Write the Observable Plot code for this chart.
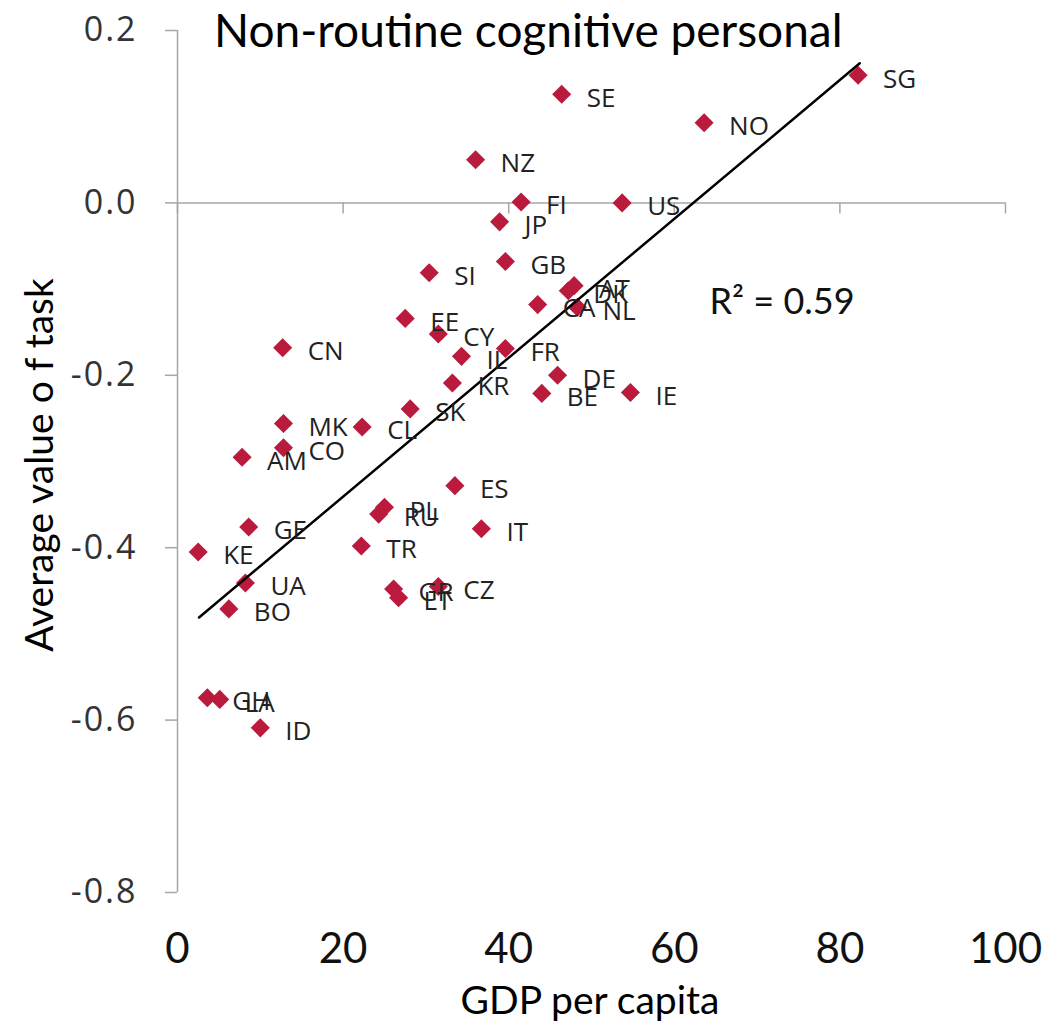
<!DOCTYPE html>
<html>
<head>
<meta charset="utf-8">
<script src="https://cdn.jsdelivr.net/npm/d3@7"></script>
<script src="https://cdn.jsdelivr.net/npm/@observablehq/plot@0.6"></script>
<style>
  html, body { margin: 0; padding: 0; background: #fff; }
  #wrap { position: relative; width: 1059px; height: 1026px; overflow: hidden; }
  .title { position: absolute; left: 214px; top: 7px; font-family: Lato, sans-serif; font-size: 46px; line-height: 1; color: #000; white-space: nowrap; }
  .xlab { position: absolute; left: 590px; top: 980px; transform: translateX(-50%); font-family: Lato, sans-serif; font-size: 39px; line-height: 1; color: #000; white-space: nowrap; }
  .ylab { position: absolute; left: 38px; top: 465px; transform: translate(-50%, -50%) rotate(-90deg); font-family: Lato, sans-serif; font-size: 39px; line-height: 1; color: #000; white-space: nowrap; }
  .ytick text { letter-spacing: 2px; }
</style>
</head>
<body>
<div id="wrap">
  <div class="title">Non-routine cognitive personal</div>
  <div class="ylab">Average value o f task</div>
  <div class="xlab">GDP per capita</div>
</div>
<script>
const countries = ["SE","SG","NO","NZ","FI","US","JP","GB","SI","AT","DK","CA","NL","EE","CY","IL","FR","KR","DE","BE","IE","SK","CN","MK","CL","CO","AM","ES","PL","RU","IT","GE","KE","TR","UA","BO","GR","LT","CZ","GH","LA","ID"];
const gdp = [46.4,82.2,63.6,36.0,41.5,53.7,38.9,39.6,30.4,47.9,47.2,43.5,48.3,27.5,31.5,34.3,39.6,33.2,45.9,44.0,54.7,28.1,12.7,12.8,22.3,12.8,7.8,33.5,25.0,24.3,36.7,8.6,2.5,22.2,8.2,6.2,26.1,26.7,31.5,3.6,5.1,10.0];
const task = [0.126,0.148,0.093,0.050,0.001,0.000,-0.022,-0.068,-0.081,-0.096,-0.102,-0.118,-0.121,-0.134,-0.152,-0.178,-0.169,-0.209,-0.200,-0.221,-0.220,-0.239,-0.168,-0.256,-0.260,-0.284,-0.295,-0.328,-0.353,-0.361,-0.378,-0.376,-0.405,-0.398,-0.441,-0.471,-0.448,-0.458,-0.445,-0.574,-0.576,-0.609];
// linear trend line (as drawn in the reference), endpoints at the data's x extent
const trendGdp = [2.6, 82.4];
const trendTask = [-0.481, 0.162];
const xTicks = [0,20,40,60,80,100];
const yTicks = [0.2,0.0,-0.2,-0.4,-0.6,-0.8];
const r2Label = "R² = 0.59";

const data = countries.map((c, i) => ({country: c, gdp: gdp[i], task: task[i]}));
const trend = trendGdp.map((g, i) => ({gdp: g, task: trendTask[i]}));
const axisGray = "#a6a6a6";
const red = "#ba1b3d";

const chart = Plot.plot({
  width: 1059,
  height: 1026,
  marginLeft: 177,
  marginRight: 54,
  marginTop: 30,
  marginBottom: 134,
  style: {background: "transparent", overflow: "visible"},
  x: {domain: [0, 100], ticks: xTicks},
  y: {domain: [-0.8, 0.2], ticks: yTicks},
  marks: [
    Plot.ruleX([0], {y1: -0.8, y2: 0.2, stroke: axisGray, strokeWidth: 1.5}),
    Plot.ruleY([0], {x1: 0, x2: 100, stroke: axisGray, strokeWidth: 1.5}),
    Plot.ruleX(xTicks, {x: d => d, y1: 0, y2: -0.0128, stroke: axisGray, strokeWidth: 1.5}),
    Plot.axisY({ticks: yTicks, tickSize: 12, tickPadding: 28, stroke: axisGray, strokeWidth: 1.5, fill: "#333", fontSize: 34, fontFamily: "'Open Sans', sans-serif", className: "ytick", tickFormat: d => d3.format(".1f")(d).replace("\u2212", "-"), label: null}),
    Plot.axisX({ticks: xTicks, tickSize: 0, tickPadding: 41, fill: "#111", fontSize: 42, fontFamily: "Lato, sans-serif", tickFormat: d => String(d), label: null}),
    Plot.dot(data, {x: "gdp", y: "task", symbol: "diamond2", r: 8.6, fill: red, stroke: "none"}),
    Plot.line(trend, {x: "gdp", y: "task", stroke: "#000", strokeWidth: 2.5}),
    Plot.text(data, {x: "gdp", y: "task", text: "country", dx: 25, dy: 4, textAnchor: "start", fontSize: 26, fontFamily: "'Open Sans', sans-serif", fill: "#222"}),
    Plot.text([r2Label], {frameAnchor: "top-left", dx: 532, dy: 258, textAnchor: "start", fontSize: 36, fontFamily: "Lato, sans-serif", fill: "#111"})
  ]
});
chart.style.position = "absolute";
chart.style.left = "0px";
chart.style.top = "0px";
document.getElementById("wrap").prepend(chart);
</script>
</body>
</html>
